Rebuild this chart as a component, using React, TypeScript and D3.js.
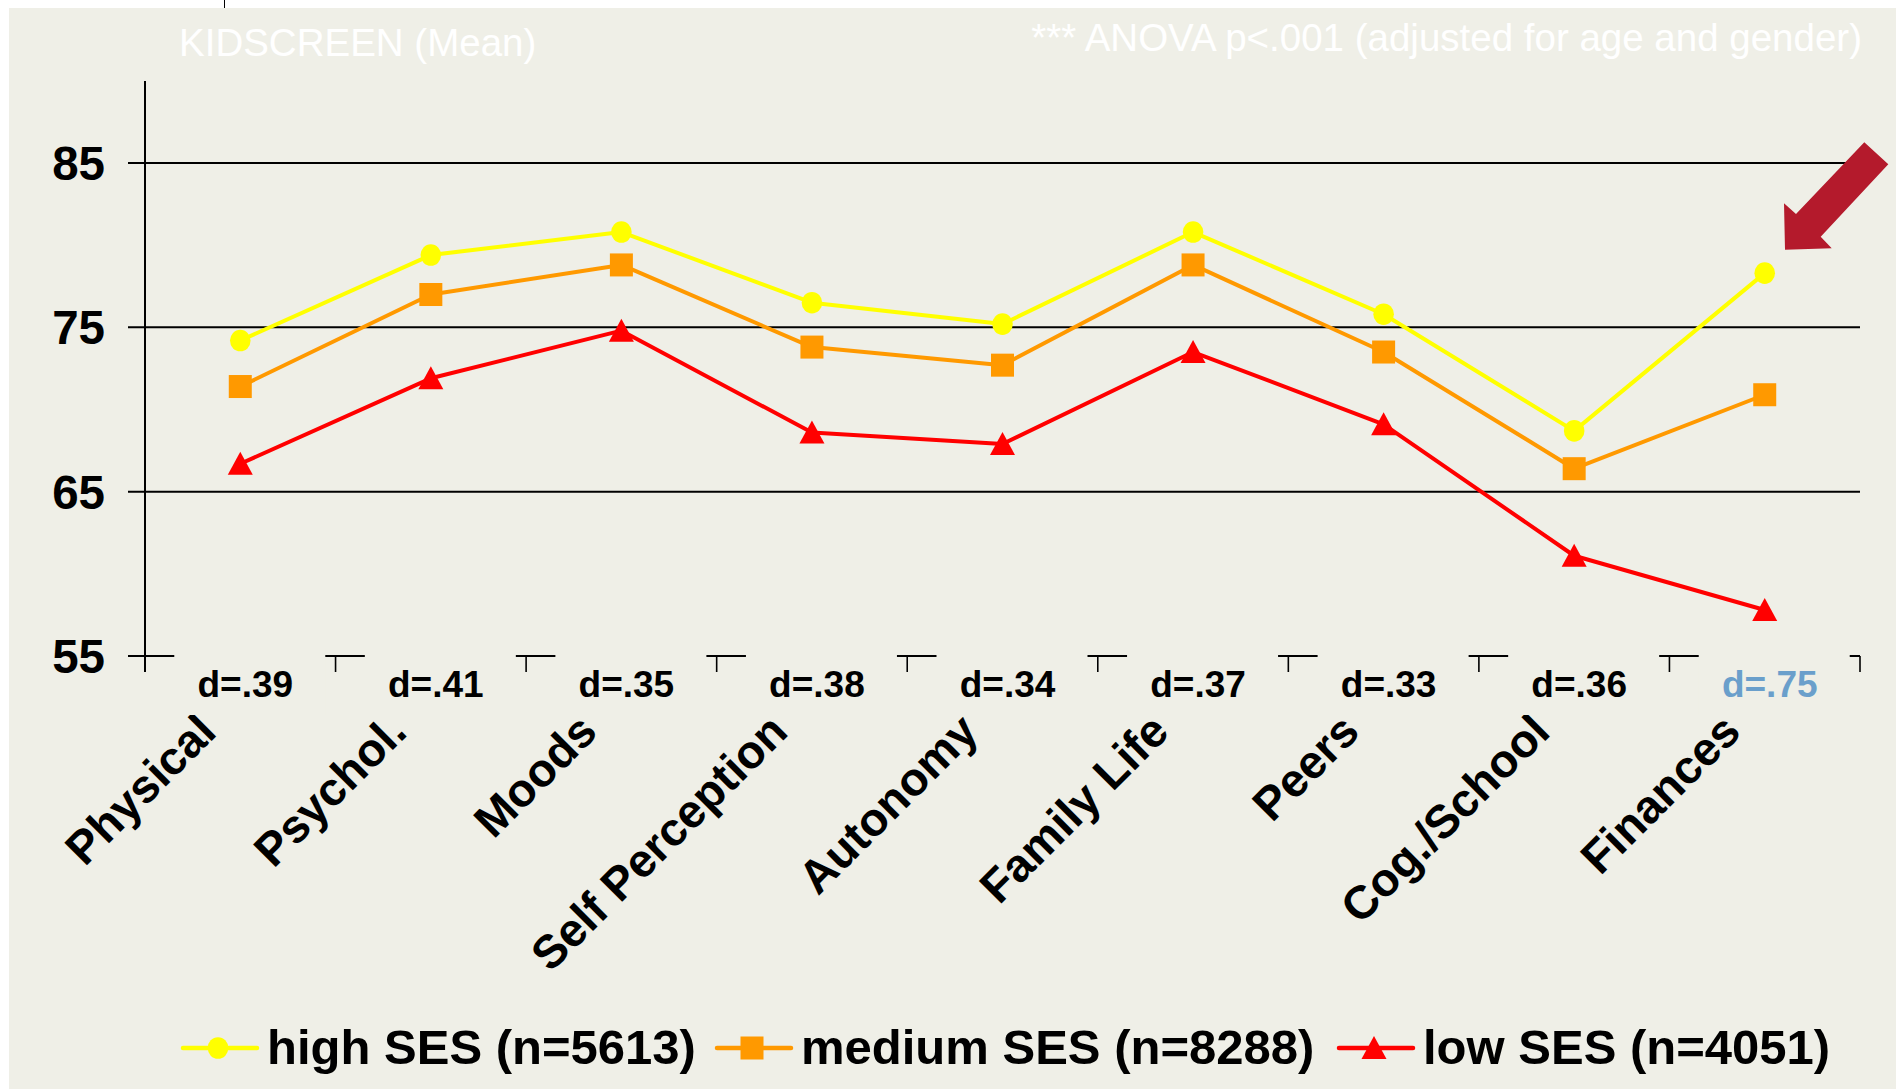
import React from 'react';
import * as d3 from 'd3';

const categories = ['Physical', 'Psychol.', 'Moods', 'Self Perception', 'Autonomy', 'Family Life', 'Peers', 'Cog./School', 'Finances'];
const effectSizes = ['d=.39', 'd=.41', 'd=.35', 'd=.38', 'd=.34', 'd=.37', 'd=.33', 'd=.36', 'd=.75'];
const highlighted = [false, false, false, false, false, false, false, false, true];
const highSES = [74.2, 79.4, 80.8, 76.5, 75.2, 80.8, 75.8, 68.7, 78.3];
const mediumSES = [71.4, 77.0, 78.8, 73.8, 72.7, 78.8, 73.5, 66.4, 70.9];
const lowSES = [66.7, 71.9, 74.8, 68.6, 67.9, 73.5, 69.1, 61.1, 57.8];
const yTicks = [55, 65, 75, 85];
const seriesLabels = ['high SES (n=5613)', 'medium SES (n=8288)', 'low SES (n=4051)'];
const titleText = 'KIDSCREEN (Mean)';
const noteText = '*** ANOVA p<.001 (adjusted for age and gender)';

const W = 1896;
const H = 1089;
const BG = '#EFEFE7';
const FONT = '"Liberation Sans", Arial, sans-serif';

const series = [
  { name: seriesLabels[0], values: highSES, color: '#FFFF00', marker: 'circle' },
  { name: seriesLabels[1], values: mediumSES, color: '#FF9900', marker: 'square' },
  { name: seriesLabels[2], values: lowSES, color: '#FF0000', marker: 'triangle' },
];

function Marker({ type, x, y, color }: { type: string; x: number; y: number; color: string }) {
  if (type === 'circle') return <ellipse cx={x} cy={y} rx={10.3} ry={10.8} fill={color} />;
  if (type === 'square') return <rect x={x - 11.5} y={y - 11.5} width={23} height={23} fill={color} />;
  return <path d={`M${x},${y - 12}L${x + 12.5},${y + 11}L${x - 12.5},${y + 11}Z`} fill={color} />;
}

export default function App() {
  const x = d3.scalePoint<string>().domain(categories).range([145, 1860]).padding(0.5);
  const y = d3.scaleLinear().domain([55, 90]).range([656, 80.9]);
  const step = x.step();
  const boundaries = d3.range(categories.length + 1).map((i) => 145 + i * step);
  const line = d3.line<number>().x((_, i) => x(categories[i]) as number).y((d) => y(d));

  const legendStarts = [183, 717, 1339];

  return (
    <svg width={W} height={H} style={{ position: 'absolute', left: 0, top: 0, display: 'block' }} fontFamily={FONT}>
      <rect x={0} y={0} width={W} height={H} fill="#FFFFFF" />
      <rect x={9} y={8} width={W - 9} height={H - 8} fill={BG} />
      <line x1={224.5} x2={224.5} y1={0} y2={8} stroke="#000" strokeWidth={1} />

      {/* gridlines */}
      {yTicks.map((t) => (
        <line key={t} x1={128} x2={1860} y1={y(t)} y2={y(t)} stroke="#000" strokeWidth={2} />
      ))}
      {/* x ticks */}
      {boundaries.map((b, i) => (
        <line key={i} x1={b} x2={b} y1={y(55)} y2={y(55) + 16} stroke="#000" strokeWidth={1.6} />
      ))}
      {/* y axis */}
      <line x1={145} x2={145} y1={y(90)} y2={y(55) + 16} stroke="#000" strokeWidth={2} />
      {yTicks.map((t) => (
        <text key={t} x={105} y={y(t) + 17} textAnchor="end" fontSize={47.5} fontWeight="bold" fill="#000">
          {t}
        </text>
      ))}

      {/* category labels */}
      {categories.map((c) => {
        const cx = (x(c) as number) - 22;
        const cy = 734;
        return (
          <text key={c} x={cx} y={cy} textAnchor="end" fontSize={46.5} fontWeight="bold" fill="#000" transform={`rotate(-45 ${cx} ${cy})`}>
            {c}
          </text>
        );
      })}

      {/* label boxes covering axis */}
      {categories.map((c) => {
        const cx = x(c) as number;
        return <rect key={c} x={cx - 66} y={648} width={151} height={67} fill={BG} />;
      })}
      {effectSizes.map((d, i) => (
        <text key={d + i} x={(x(categories[i]) as number) + 5} y={696.5} textAnchor="middle" fontSize={37} fontWeight="bold" fill={highlighted[i] ? '#6A9FCB' : '#000'}>
          {d}
        </text>
      ))}

      {/* series */}
      {series.map((s) => (
        <g key={s.name}>
          <path d={line(s.values) as string} fill="none" stroke={s.color} strokeWidth={4} strokeLinejoin="round" />
          {s.values.map((v, i) => (
            <Marker key={i} type={s.marker} x={x(categories[i]) as number} y={y(v)} color={s.color} />
          ))}
        </g>
      ))}

      {/* arrow */}
      <polygon
        points="1864.3,142.3 1888.3,164.3 1820.7,236.7 1831.7,248.3 1785,249.7 1784,203.3 1796,214"
        fill="#B41A2C"
      />

      {/* titles */}
      <text x={179} y={56} fontSize={38.5} fill="#FFFFFF">{titleText}</text>
      <text x={1862} y={51} fontSize={38.5} fill="#FFFFFF" textAnchor="end">{noteText}</text>

      {/* legend */}
      {series.map((s, i) => {
        const lx = legendStarts[i];
        return (
          <g key={s.name}>
            <line x1={lx} x2={lx + 74} y1={1048} y2={1048} stroke={s.color} strokeWidth={4.5} strokeLinecap="round" />
            <Marker type={s.marker} x={lx + 35} y={1048} color={s.color} />
            <text x={lx + 84} y={1064} fontSize={49} fontWeight="bold" fill="#000">{s.name}</text>
          </g>
        );
      })}
    </svg>
  );
}
